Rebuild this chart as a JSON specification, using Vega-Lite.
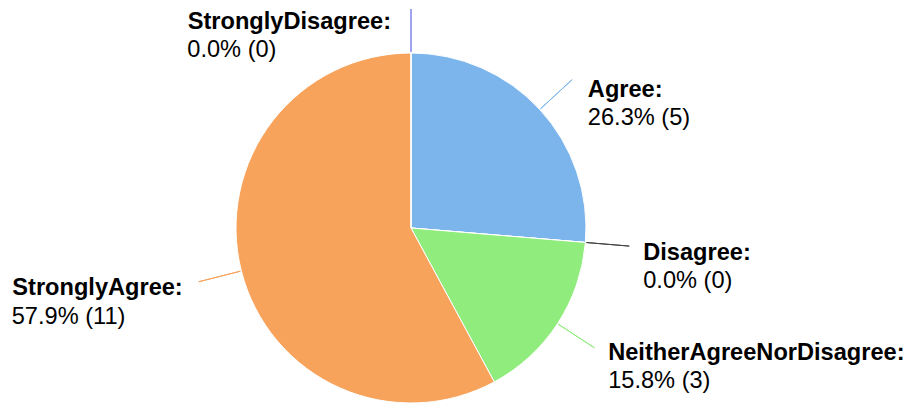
{
  "$schema": "https://vega.github.io/schema/vega-lite/v6.json",
  "width": 350,
  "height": 350,
  "autosize": {"type": "none"},
  "padding": {"left": 236, "top": 53, "right": 324, "bottom": 2},
  "background": "white",
  "config": {
    "view": {"stroke": null},
    "text": {"font": "Liberation Sans", "fontSize": 23.6, "fill": "#000000"}
  },
  "data": {
    "values": [
      {"category": "Agree", "count": 5},
      {"category": "Disagree", "count": 0},
      {"category": "NeitherAgreeNorDisagree", "count": 3},
      {"category": "StronglyAgree", "count": 11},
      {"category": "StronglyDisagree", "count": 0}
    ]
  },
  "transform": [
    {"window": [{"op": "sum", "field": "count", "as": "cum"}], "sort": [{"field": "category", "order": "ascending"}], "frame": [null, 0]},
    {"joinaggregate": [{"op": "sum", "field": "count", "as": "total"}]},
    {"calculate": "datum.cum - datum.count / 2", "as": "mid"},
    {"calculate": "datum.category + ':'", "as": "line1"},
    {"calculate": "format(datum.count / datum.total, '.1%') + ' (' + datum.count + ')'", "as": "line2"}
  ],
  "layer": [
    {
      "mark": {"type": "arc", "stroke": "#ffffff", "strokeWidth": 1},
      "encoding": {
        "theta": {"field": "count", "type": "quantitative", "stack": true},
        "color": {
          "field": "category", "type": "nominal",
          "scale": {"domain": ["Agree", "Disagree", "NeitherAgreeNorDisagree", "StronglyAgree", "StronglyDisagree"], "range": ["#7cb5ec", "#434348", "#90ed7d", "#f7a35c", "#8085e9"]},
          "legend": null
        }
      }
    },
    {
      "mark": {"type": "arc", "innerRadius": 176, "outerRadius": 219, "fillOpacity": 0, "strokeWidth": 1},
      "encoding": {
        "theta": {"field": "mid", "type": "quantitative", "stack": null},
        "theta2": {"field": "mid"},
        "stroke": {
          "field": "category", "type": "nominal",
          "scale": {"domain": ["Agree", "Disagree", "NeitherAgreeNorDisagree", "StronglyAgree", "StronglyDisagree"], "range": ["#7cb5ec", "#434348", "#90ed7d", "#f7a35c", "#8085e9"]},
          "legend": null
        }
      }
    },
    {
      "transform": [{"filter": "datum.category == 'Agree'"}],
      "mark": {"type": "text", "radius": 220, "align": "left", "baseline": "alphabetic", "fontWeight": "bold", "dx": 15, "dy": 17.7},
      "encoding": {"theta": {"field": "mid", "type": "quantitative", "stack": null}, "text": {"field": "line1"}}
    },
    {
      "transform": [{"filter": "datum.category == 'Agree'"}],
      "mark": {"type": "text", "radius": 220, "align": "left", "baseline": "alphabetic", "dx": 15, "dy": 46},
      "encoding": {"theta": {"field": "mid", "type": "quantitative", "stack": null}, "text": {"field": "line2"}}
    },
    {
      "transform": [{"filter": "datum.category == 'Disagree'"}],
      "mark": {"type": "text", "radius": 220, "align": "left", "baseline": "alphabetic", "fontWeight": "bold", "dx": 13, "dy": 13.8},
      "encoding": {"theta": {"field": "mid", "type": "quantitative", "stack": null}, "text": {"field": "line1"}}
    },
    {
      "transform": [{"filter": "datum.category == 'Disagree'"}],
      "mark": {"type": "text", "radius": 220, "align": "left", "baseline": "alphabetic", "dx": 13, "dy": 42.1},
      "encoding": {"theta": {"field": "mid", "type": "quantitative", "stack": null}, "text": {"field": "line2"}}
    },
    {
      "transform": [{"filter": "datum.category == 'NeitherAgreeNorDisagree'"}],
      "mark": {"type": "text", "radius": 220, "align": "left", "baseline": "alphabetic", "fontWeight": "bold", "dx": 13, "dy": 11.7},
      "encoding": {"theta": {"field": "mid", "type": "quantitative", "stack": null}, "text": {"field": "line1"}}
    },
    {
      "transform": [{"filter": "datum.category == 'NeitherAgreeNorDisagree'"}],
      "mark": {"type": "text", "radius": 220, "align": "left", "baseline": "alphabetic", "dx": 13, "dy": 39.5},
      "encoding": {"theta": {"field": "mid", "type": "quantitative", "stack": null}, "text": {"field": "line2"}}
    },
    {
      "transform": [{"filter": "datum.category == 'StronglyAgree'"}],
      "mark": {"type": "text", "radius": 220, "align": "right", "baseline": "alphabetic", "fontWeight": "bold", "dx": -15, "dy": 13},
      "encoding": {"theta": {"field": "mid", "type": "quantitative", "stack": null}, "text": {"field": "line1"}}
    },
    {
      "transform": [{"filter": "datum.category == 'StronglyAgree'"}],
      "mark": {"type": "text", "radius": 220, "align": "left", "baseline": "alphabetic", "dx": -186, "dy": 41.5},
      "encoding": {"theta": {"field": "mid", "type": "quantitative", "stack": null}, "text": {"field": "line2"}}
    },
    {
      "transform": [{"filter": "datum.category == 'StronglyDisagree'"}],
      "mark": {"type": "text", "radius": 220, "align": "right", "baseline": "alphabetic", "fontWeight": "bold", "dx": -20, "dy": 21.3},
      "encoding": {"theta": {"field": "mid", "type": "quantitative", "stack": null}, "text": {"field": "line1"}}
    },
    {
      "transform": [{"filter": "datum.category == 'StronglyDisagree'"}],
      "mark": {"type": "text", "radius": 220, "align": "left", "baseline": "alphabetic", "dx": -223.7, "dy": 48.7},
      "encoding": {"theta": {"field": "mid", "type": "quantitative", "stack": null}, "text": {"field": "line2"}}
    }
  ]
}
